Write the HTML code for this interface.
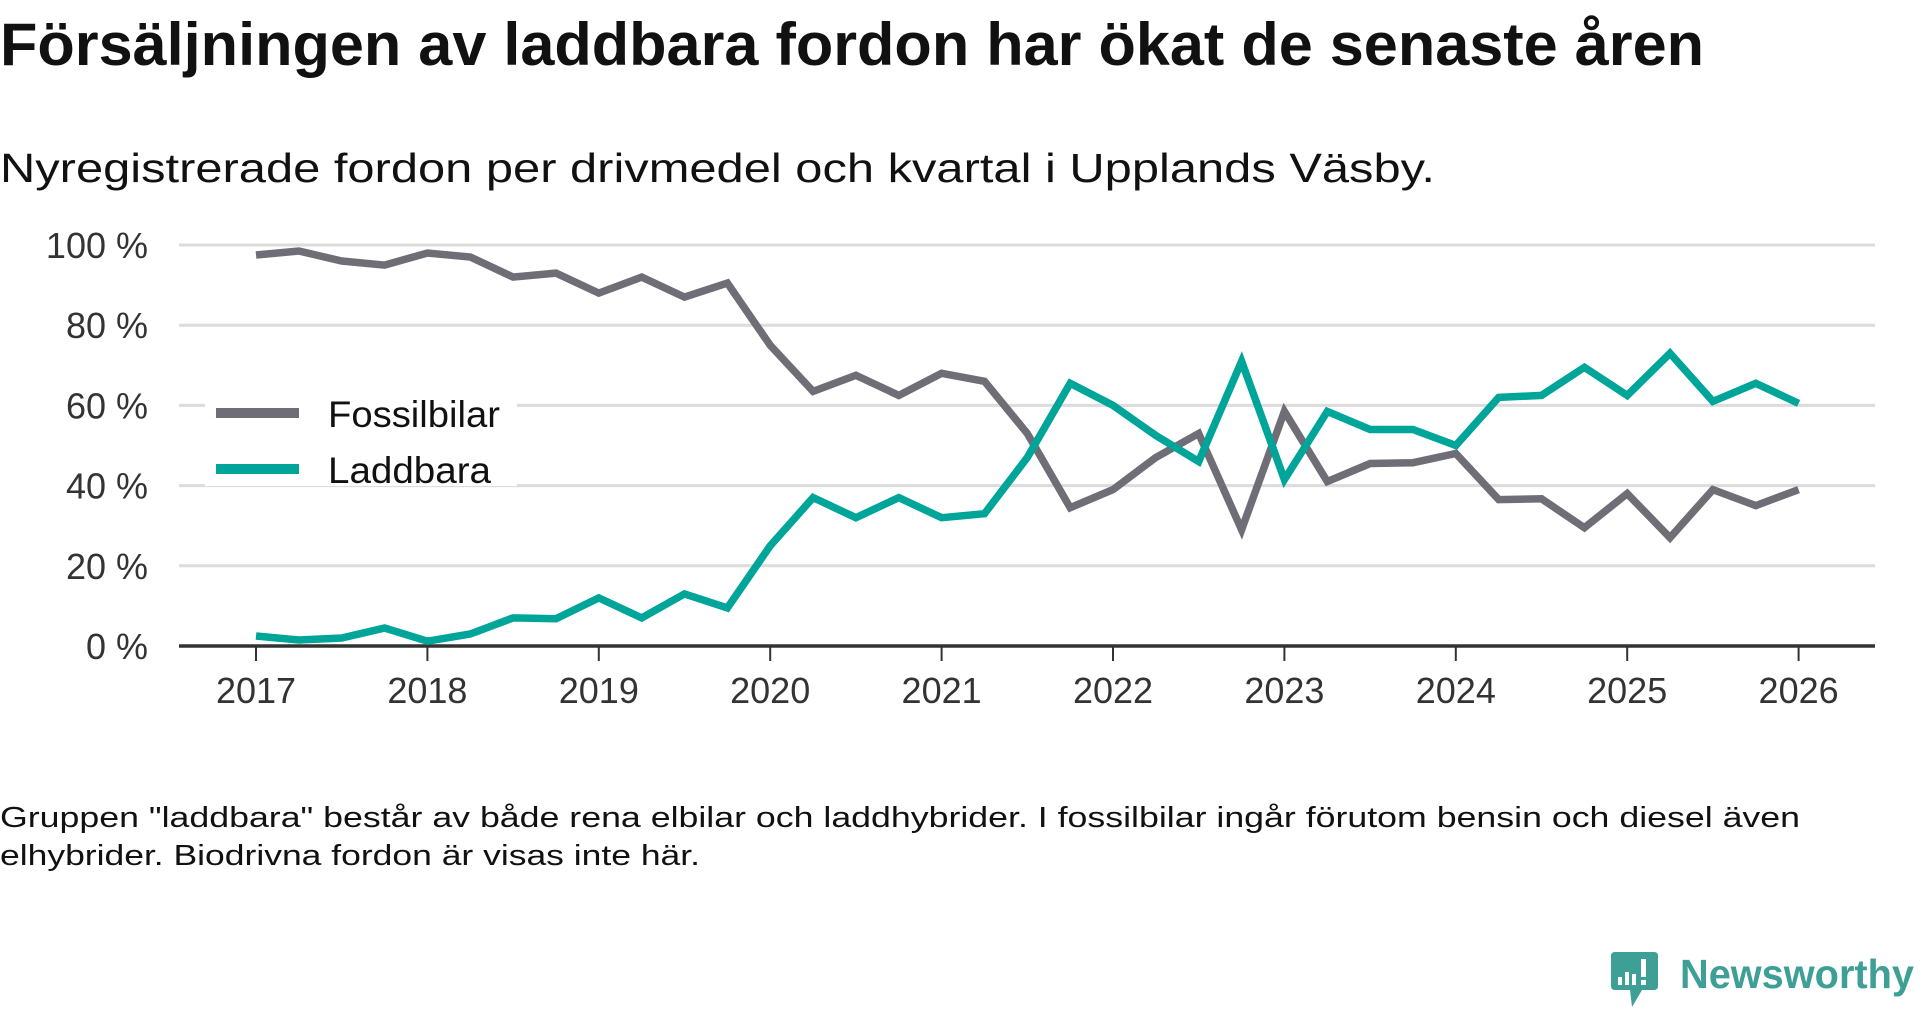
<!DOCTYPE html>
<html lang="sv">
<head>
<meta charset="utf-8">
<style>
  html,body{margin:0;padding:0;background:#fff;}
  body{width:1920px;height:1010px;overflow:hidden;font-family:"Liberation Sans","DejaVu Sans",sans-serif;}
  svg{display:block;}
</style>
</head>
<body>
<svg id="chart" width="1920" height="1010" viewBox="0 0 1920 1010" xmlns="http://www.w3.org/2000/svg">
  <text x="0" y="65" font-size="60" font-weight="bold" fill="#111" textLength="1704" lengthAdjust="spacingAndGlyphs">Försäljningen av laddbara fordon har ökat de senaste åren</text>
  <text x="0" y="182" font-size="41" fill="#111" textLength="1435" lengthAdjust="spacingAndGlyphs">Nyregistrerade fordon per drivmedel och kvartal i Upplands Väsby.</text>
  <g id="grid"></g>
  <g id="yaxis"></g>
  <g id="xaxis"></g>
  <g id="legend">
    <rect x="205" y="400" width="312" height="86" fill="#fff"/>
    <g>
      <rect x="216" y="408" width="83" height="10" fill="#6f6e76"/>
      <text x="328" y="427" font-size="37" fill="#111" textLength="172" lengthAdjust="spacingAndGlyphs">Fossilbilar</text>
    </g>
    <g>
      <rect x="216" y="464" width="83" height="10" fill="#00a59a"/>
      <text x="328" y="483" font-size="37" fill="#111" textLength="163" lengthAdjust="spacingAndGlyphs">Laddbara</text>
    </g>
  </g>
  <g id="series"></g>
  <text x="0" y="827" font-size="29" fill="#111" textLength="1800" lengthAdjust="spacingAndGlyphs">Gruppen "laddbara" består av både rena elbilar och laddhybrider. I fossilbilar ingår förutom bensin och diesel även</text>
  <text x="0" y="865" font-size="29" fill="#111" textLength="700" lengthAdjust="spacingAndGlyphs">elhybrider. Biodrivna fordon är visas inte här.</text>
  <g>
    <path d="M1615 952 H1654 Q1658 952 1658 956 V986 Q1658 990 1654 990 H1642 L1632 1007 L1630 990 H1615 Q1611 990 1611 986 V956 Q1611 952 1615 952 Z" fill="#3d9f96"/>
    <rect x="1618" y="977" width="4" height="8" fill="#fff"/>
    <rect x="1625" y="972" width="4" height="13" fill="#fff"/>
    <rect x="1632" y="974" width="4" height="11" fill="#fff"/>
    <rect x="1641" y="959" width="5" height="18" fill="#fff"/>
    <rect x="1641" y="980" width="5" height="5" fill="#fff"/>
    <text x="1680" y="988" font-size="41" font-weight="bold" fill="#3d9f96" textLength="234" lengthAdjust="spacingAndGlyphs">Newsworthy</text>
  </g>
</svg>
<script>
const yearLabels = ["2017","2018","2019","2020","2021","2022","2023","2024","2025","2026"];
const yTicks = [0,20,40,60,80,100];
const fossil = [97.5,98.5,96,95,98,97,92,93,88,92,87,90.5,75,63.5,67.5,62.5,68,66,53,34.5,39,47,53,29,58.5,41,45.5,45.7,48,36.5,36.7,29.5,38,27,39,35,39];
const laddbara = [2.5,1.5,2,4.5,1.2,3,7,6.8,12,7,13,9.5,25,37,32,37,32,33,47,65.5,60,52.5,46,71,41.5,58.5,54,54,50,62,62.5,69.5,62.5,73,61,65.5,60.5];

const NS = "http://www.w3.org/2000/svg";
const x0 = 256, yearW = 171.4;
function xScale(i){ return x0 + i * yearW / 4; }
function yScale(v){ return 646 - v * 4.01; }
function mk(tag, attrs, parent){
  const el = document.createElementNS(NS, tag);
  for (const k in attrs) el.setAttribute(k, attrs[k]);
  parent.appendChild(el);
  return el;
}
const grid = document.getElementById('grid');
const yaxis = document.getElementById('yaxis');
const xaxis = document.getElementById('xaxis');
const series = document.getElementById('series');

yTicks.forEach(function(t){
  const y = yScale(t);
  if (t > 0) {
    const g = mk('line', {x1:179, x2:1875, y1:y, y2:y, stroke:'#dcdcdc', 'stroke-width':3}, grid);
    
    
  }
  const lbl = mk('text', {x:148, y:y+13, 'font-size':36, fill:'#333', 'text-anchor':'end'}, yaxis);
  lbl.textContent = t + ' %';
  
  
});

const base = mk('line', {x1:179, x2:1875, y1:646, y2:646, stroke:'#333', 'stroke-width':3.5}, xaxis);


yearLabels.forEach(function(lab, i){
  const x = xScale(i * 4);
  const tk = mk('line', {x1:x, x2:x, y1:646, y2:661, stroke:'#333', 'stroke-width':2}, xaxis);
  
  
  const t = mk('text', {x:x, y:703, 'font-size':36, fill:'#333', 'text-anchor':'middle'}, xaxis);
  t.textContent = lab;
  
  
});

function drawLine(vals, color, name){
  const pts = vals.map(function(v, i){ return xScale(i).toFixed(1) + ',' + yScale(v).toFixed(1); }).join(' ');
  const pl = mk('polyline', {points:pts, fill:'none', stroke:color, 'stroke-width':7.5, 'stroke-linejoin':'miter', 'stroke-miterlimit':3}, series);
  
  
}
drawLine(fossil, '#6f6e76', 'line-fossilbilar');
drawLine(laddbara, '#00a59a', 'line-laddbara');
</script>
</body>
</html>
